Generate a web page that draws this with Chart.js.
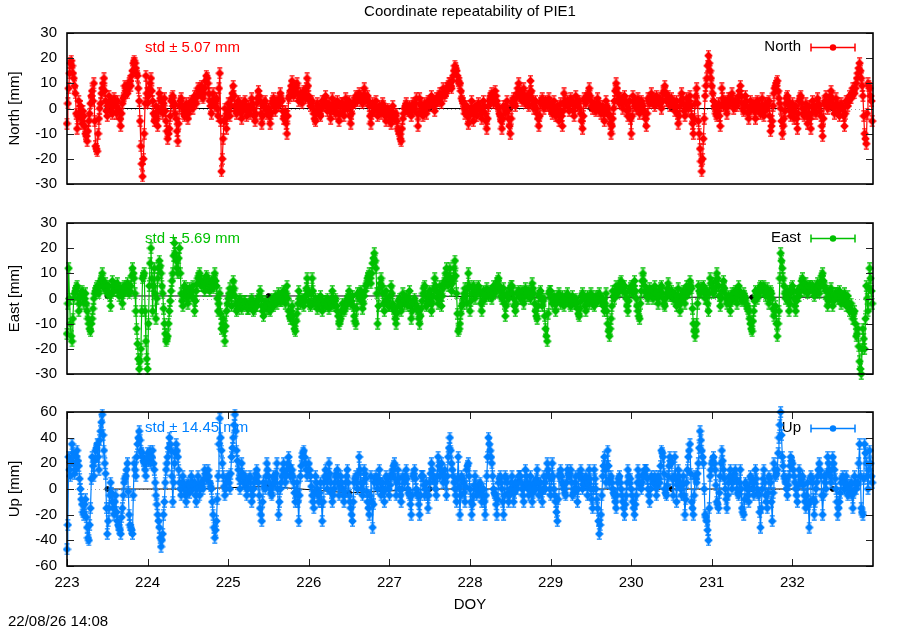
<!DOCTYPE html>
<html><head><meta charset="utf-8">
<script src="https://cdn.jsdelivr.net/npm/chart.js@4"></script>
<style>
html,body{margin:0;padding:0;background:#fff;width:900px;height:630px;overflow:hidden;}
.p{position:absolute;left:0;width:900px;}
</style></head><body>
<div class="p" style="top:0;height:203px"><canvas id="cN"></canvas></div>
<div class="p" style="top:200px;height:193px"><canvas id="cE"></canvas></div>
<div class="p" style="top:390px;height:240px"><canvas id="cU"></canvas></div>
<script>
// ---------- DATA ----------
const startDay = 223;
const samplesPerDay = 48; // values on the hour and half hour; "Mid" arrays hold the quarter-past readings

const northValues = [
-6,8,18,17,12,6,-8,3,1,-6,-3,-10,-13,-5,2,7,10,-15,-17,-4,2,8,12,3,-3,5,2,-2,4,1,3,-1,-7,2,5,8,6,10,9,15,19,16,13,3,-15,-27,-10,13,
2,8,12,3,-5,1,-7,6,3,-2,4,-5,-12,-8,3,5,2,-4,-13,1,4,0,-3,2,-4,1,3,0,5,2,8,6,9,4,8,13,10,3,-2,6,1,4,-3,14,-25,-12,0,-8,
2,-3,4,9,1,-2,3,0,-4,2,3,-3,1,-2,4,0,-5,2,7,3,-6,1,3,-2,0,-6,2,4,-1,3,1,6,3,-4,-1,-10,4,7,11,5,8,10,3,6,2,7,4,12,
5,1,3,-2,-5,2,0,-3,3,1,5,-1,2,-4,4,0,-2,3,-5,1,2,-3,4,0,3,-6,1,2,5,3,6,4,2,8,3,5,1,-6,2,-1,3,-3,1,-2,2,-1,-5,0,
-3,-6,1,-4,-2,-8,-10,-13,-4,0,2,-1,1,-3,2,0,4,-7,4,1,-3,2,-2,3,1,5,2,-1,4,3,6,2,8,5,7,9,10,8,13,17,15,11,10,4,2,-2,1,-6,
-2,3,-5,1,-3,2,0,-4,3,-2,-8,1,4,6,2,7,3,0,-3,-8,1,-2,3,-4,-10,2,4,1,6,10,5,3,8,2,5,1,11,4,0,3,-2,-7,2,4,0,3,1,4,
0,-2,3,-3,1,-5,2,-7,6,1,3,-1,4,2,-3,5,1,3,-2,-8,4,2,5,8,3,0,2,-1,4,1,-2,1,-5,3,0,-3,-10,-4,3,10,6,2,4,0,5,2,-3,3,
-10,5,2,0,4,-2,3,1,-2,-7,4,2,6,3,1,5,2,4,0,6,9,3,5,1,4,2,-1,3,-6,1,6,2,-3,4,0,5,-3,-10,2,8,-5,-16,-25,-12,5,12,21,15,
9,3,0,-3,2,-7,8,1,3,-2,4,2,6,0,3,1,5,9,2,-1,5,1,-4,3,0,2,-4,3,1,-2,4,-3,2,0,3,-9,-5,6,9,11,4,0,-10,-4,2,5,1,-3,
2,-4,1,-8,3,5,0,-3,2,-6,1,-8,3,0,-2,4,1,-3,-11,2,5,0,3,7,2,-2,4,1,-3,2,0,-7,3,1,5,4,8,6,10,14,18,12,5,-10,-14,10,8,3
];
const northMid = [
2,14,19,14,9,-2,-3,-2,-4,-1,-7,-11,-9,-2,5,3,-5,-16,-10,0,6,10,7,-1,1,3,-1,1,3,-2,0,-4,-2,4,9,7,8,11,13,18,18,14,8,-5,-22,-20,2,6,
5,10,7,-2,-3,-4,-1,4,0,2,-1,-9,-10,-3,4,1,-2,-9,-6,3,1,-2,0,-1,-2,2,1,3,4,5,7,8,5,6,11,12,6,1,3,2,3,0,8,-5,-20,-5,-4,-2,
-1,1,6,5,-1,1,2,-2,-1,1,0,-1,0,1,2,-3,-2,4,5,-2,-3,2,0,-1,-3,-2,3,1,1,2,4,4,-1,-3,-6,-3,5,9,8,6,9,6,4,4,5,6,8,9,
3,2,0,-4,-1,1,-2,0,2,3,2,1,-1,0,2,-1,1,-2,-2,2,-1,1,2,1,-3,-2,2,3,4,5,5,3,5,5,4,3,-3,-2,1,1,0,-1,0,0,1,-3,-2,-1,
-5,-2,-2,-3,-5,-9,-12,-8,-2,1,0,0,-1,-1,1,2,-2,-2,2,-1,0,0,1,2,3,3,1,2,3,5,4,6,6,6,8,10,9,11,15,16,13,10,7,3,0,-1,-3,-3,
0,-1,-2,-1,0,1,-2,-1,1,-5,-4,3,5,4,5,5,1,-2,-5,-4,0,1,-1,-7,-4,3,2,4,8,7,4,6,5,3,3,6,7,2,1,0,-4,-3,3,2,1,2,2,2,
-1,1,0,-1,-2,-1,-3,-1,3,2,1,2,3,-1,1,3,2,0,-5,-3,3,4,6,5,1,1,0,2,2,-1,0,-2,-1,1,-2,-6,-7,0,7,8,4,3,2,3,3,-1,0,-4,
-3,3,1,2,1,0,2,-1,-4,-2,3,4,4,2,3,3,3,2,3,7,6,4,3,2,3,1,1,-2,-3,3,4,-1,0,2,3,1,-6,-4,5,2,-10,-21,-20,-4,9,17,18,12,
6,1,-2,-1,-3,1,4,2,0,1,3,4,3,1,2,3,7,5,0,2,3,-2,-1,1,1,-1,0,2,-1,1,0,-1,1,2,-3,-7,1,8,10,7,2,-5,-7,-1,4,3,-1,0,
-1,-1,-4,-2,4,2,-2,0,-2,-2,-4,-2,1,-1,1,2,-1,-7,-4,3,2,1,5,4,0,1,2,-1,0,1,-3,-2,2,3,4,6,7,8,12,16,15,9,-3,-12,-2,9,5,-5
];

const eastValues = [
-14,12,-10,-17,0,3,5,-5,1,3,-2,2,-5,-10,-13,-8,0,3,5,2,7,10,4,6,2,5,-3,7,3,5,6,1,4,-2,5,3,6,2,5,12,8,-5,-18,-28,-20,8,10,-17,
-28,5,20,-5,12,-8,8,15,10,2,-10,-17,-15,-5,3,10,22,15,10,20,2,-3,5,3,-2,4,1,5,-5,3,8,10,5,7,3,9,6,3,7,4,10,5,-5,2,-12,-8,-17,-5,
0,4,-3,7,1,-5,-2,0,-4,-2,-1,-3,-4,-2,0,-5,-2,-3,0,3,-3,-7,-1,-4,-2,-5,0,-3,1,-2,2,-1,0,3,-2,5,-5,-8,-3,-10,-13,-6,3,-2,0,-3,1,8,
-1,-3,8,-2,0,-4,-2,1,-5,-1,-3,0,-4,-2,3,-3,0,-5,-10,-8,-2,-5,-3,0,3,-2,1,-7,-10,2,0,3,-4,1,5,8,10,6,14,18,12,-10,4,8,2,-5,3,-2,
-3,5,-2,-5,-10,-3,0,-5,2,-2,1,-3,3,-8,-2,0,-3,-5,-10,-4,2,5,-3,0,3,-5,1,8,3,-2,5,-3,4,7,12,5,12,3,8,15,2,-13,-10,-3,0,4,-2,10,
-5,2,5,0,3,5,2,-5,3,0,4,1,3,0,5,2,6,8,3,0,4,-7,2,0,4,5,0,-5,2,3,0,3,-2,4,1,3,0,6,2,-5,-8,1,3,-3,0,-12,-17,2,
3,-2,1,-5,0,2,-2,1,-3,0,2,-1,-3,1,-2,0,-4,-7,-1,2,0,-5,1,-2,2,0,-3,1,-1,2,-1,0,-5,2,-10,-15,-8,3,0,5,2,4,7,3,5,0,-5,3,
5,2,7,0,-5,-8,3,10,5,2,0,4,3,0,5,2,-2,3,5,0,-3,2,6,1,3,0,2,-3,4,-5,1,3,-2,5,2,7,4,-10,-15,-10,5,2,4,5,0,3,-5,8,
6,2,4,10,5,-3,3,7,2,-2,1,-5,2,0,3,-2,5,1,-1,2,0,-3,-5,-10,-13,-5,3,0,2,5,3,5,1,4,-2,3,0,-7,-3,-15,-5,18,12,5,0,3,-5,2,
5,0,-5,3,1,5,8,3,6,2,5,4,5,1,3,6,2,7,10,5,3,-3,2,4,-3,1,2,0,3,-2,0,2,-3,1,-5,-2,-8,-5,-15,-12,-25,-30,-12,-20,5,-5,12,3
];
const eastMid = [
-2,0,-15,-8,2,4,0,-2,2,0,0,-2,-8,-12,-10,-4,2,4,3,5,8,7,5,4,3,1,2,5,4,5,3,2,1,2,4,5,4,3,9,10,2,-12,-24,-25,-5,9,-5,-24,
-10,14,8,5,2,0,12,13,5,-4,-14,-16,-10,-1,7,17,18,12,16,10,-1,1,4,0,1,3,3,0,-1,6,9,7,6,5,6,8,4,5,5,8,7,0,-2,-6,-10,-13,-11,-2,
2,1,2,4,-2,-4,-1,-2,-3,-1,-2,-4,-3,-1,-3,-4,-3,-1,1,0,-5,-4,-2,-3,-4,-2,-2,-1,0,0,1,-1,2,0,2,0,-7,-5,-7,-12,-9,-2,0,-1,-1,-1,4,3,
-2,2,3,-1,-2,-3,0,-2,-3,-2,-1,-2,-3,0,0,-1,-3,-7,-9,-5,-4,-4,-1,1,0,-1,-3,-9,-4,1,2,-1,-2,3,6,9,8,10,16,15,2,-3,6,5,-2,-1,0,-3,
1,2,-4,-8,-6,-1,-3,-2,0,-1,-1,0,-3,-5,-1,-2,-4,-8,-7,-1,4,1,-2,2,-1,-2,4,5,0,2,1,1,6,10,8,9,7,6,12,9,-6,-12,-6,-2,2,1,4,5,
-1,4,2,2,4,3,-2,-1,1,2,2,2,1,3,3,4,7,5,1,2,-2,-3,1,2,5,2,-3,-2,2,1,2,0,1,2,2,1,3,4,-2,-7,-3,2,0,-1,-7,-15,-6,3,
0,-1,-2,-2,1,0,-1,-1,-1,1,0,-2,-1,-1,-1,-2,-6,-4,1,1,-3,-2,-1,0,1,-2,-1,0,1,0,-1,-3,-2,-5,-13,-12,-3,1,3,3,3,6,5,4,2,-3,-1,4,
3,5,3,-3,-7,-2,7,7,3,1,2,3,1,3,3,0,1,4,2,-2,0,4,3,2,1,1,-1,1,-1,-2,2,0,2,3,5,5,-4,-13,-13,-2,3,3,4,2,2,-2,2,6,
4,3,7,8,1,0,5,4,0,-1,-2,-1,1,2,0,2,3,0,1,1,-2,-4,-8,-12,-9,-1,2,1,4,4,4,3,2,1,0,2,-4,-5,-10,-10,8,15,8,2,1,-1,-2,4,
3,-3,-1,2,3,7,5,4,4,3,5,4,3,2,5,4,5,9,7,4,0,-1,3,0,-1,2,1,2,0,-1,1,-1,-1,-2,-4,-5,-6,-10,-14,-19,-28,-20,-16,-8,0,4,8,-2
];

const upValues = [
-47,25,10,35,20,15,30,18,0,-12,-20,-8,-30,-40,-15,25,10,30,35,15,45,58,30,12,-35,-15,5,-10,-20,-5,-25,-30,-35,-15,5,10,20,-20,-30,-35,20,10,35,45,30,25,20,10,
28,25,20,30,15,-5,-20,-30,-45,-35,-10,15,25,40,30,-10,20,35,25,5,-5,10,3,-10,5,-3,10,0,5,-10,10,-5,5,0,15,8,15,5,0,-20,-38,-25,10,55,30,10,-5,5,
10,0,25,40,58,30,15,0,20,5,10,-5,5,10,-10,0,8,15,5,-15,-25,5,0,20,10,0,-5,10,5,20,-20,0,10,20,5,15,25,10,15,5,-10,5,-25,10,25,30,20,10,
20,10,-5,-15,10,0,-10,5,-25,5,15,0,20,5,-10,0,10,15,-5,10,0,-10,5,15,-5,-15,-25,5,10,0,25,5,-5,15,8,-10,-20,10,-30,5,10,0,15,-5,5,-10,10,5,
-5,10,15,20,-5,15,0,-10,10,5,15,0,-5,-20,10,15,0,-5,-20,10,10,-5,5,-15,5,20,10,5,-5,25,10,20,5,15,-5,25,40,20,10,0,-10,25,-20,10,5,-10,15,20,
0,-20,-5,10,-5,0,5,-10,0,-20,10,40,30,20,0,-5,-20,5,10,0,-20,10,5,-10,0,10,-10,5,0,10,10,0,-10,15,5,-5,10,-10,5,0,15,-5,5,-10,10,0,20,10,
-5,20,0,-10,-25,10,15,5,0,-5,15,10,15,-5,0,10,-10,10,15,0,5,10,-5,15,0,-15,15,0,-15,-35,-20,10,25,5,30,5,10,0,-5,-15,5,10,0,-10,-20,-5,15,5,
0,-10,-20,-5,15,5,0,10,15,15,0,-10,10,5,10,-5,10,5,30,25,0,-5,10,25,20,-5,25,-10,15,5,-5,10,-20,5,25,35,-10,-20,10,5,20,45,30,20,-20,-25,-40,10,
20,25,15,-10,-15,10,30,15,0,-15,5,15,0,10,15,0,-5,15,-15,-20,5,0,-10,10,5,-5,15,0,-5,-30,0,15,-5,-15,10,5,-25,20,10,15,40,60,25,10,5,-5,10,25,
20,10,0,-10,15,5,10,-5,-15,5,-30,10,5,-20,0,10,20,10,-20,10,0,25,15,5,25,15,0,-20,-10,5,10,0,10,-5,0,5,-15,10,0,5,35,-15,-20,35,20,0,30,10
];
const upMid = [
-28,15,22,28,12,25,22,8,-8,-18,-12,-22,-38,-28,8,18,22,32,25,38,52,42,20,-15,-25,-5,-3,-15,-10,-18,-28,-32,-22,-5,8,15,-2,-28,-32,-5,15,25,40,38,28,22,15,22,
22,30,25,20,5,-12,-25,-38,-40,-20,5,20,32,35,10,5,28,30,15,0,5,0,-5,-2,0,3,5,3,-5,0,3,0,2,8,12,10,10,2,-10,-30,-32,-8,35,40,20,2,0,8,
5,12,32,50,45,22,8,10,12,8,2,0,8,0,-5,5,12,10,-5,-20,-10,2,10,15,5,-3,3,8,12,0,-10,5,15,12,10,20,18,12,10,-3,-2,-10,-5,18,28,25,15,15,
15,2,-10,-3,5,-5,-3,-10,-10,10,8,10,12,-3,-5,5,12,5,2,5,-5,-2,10,5,-10,-20,-10,8,5,12,15,0,5,12,-2,-15,-5,-10,-12,8,5,8,5,0,-2,0,8,0,
3,12,18,8,5,8,-5,0,8,10,8,-3,-12,-5,12,8,-3,-12,-5,10,3,0,-5,-5,12,15,8,0,10,18,15,12,10,5,10,32,30,15,5,-5,8,2,-5,8,-3,2,18,10,
-10,-12,3,2,-2,3,-3,-5,-10,-5,25,35,25,10,-3,-12,-8,8,5,-10,-5,8,-3,-5,5,0,-3,3,5,10,5,-5,3,10,0,3,0,-3,3,8,5,0,-3,0,5,10,15,0,
8,10,-5,-18,-8,12,10,3,-3,5,12,12,5,-3,5,0,0,12,8,3,8,3,5,8,-8,0,8,-8,-25,-28,-5,18,15,18,18,8,5,-3,-10,-5,8,5,-5,-15,-12,5,10,8,
-5,-15,-12,5,10,3,5,12,15,8,-5,0,8,8,3,2,8,18,28,12,-3,3,18,22,8,10,8,3,10,0,3,-5,-8,15,30,12,-15,-5,8,12,32,38,25,0,-22,-32,-15,15,
22,20,3,-12,-3,20,22,8,-8,-5,10,8,5,12,8,-3,5,0,-18,-8,3,-5,0,8,0,5,8,-3,-18,-15,8,5,-10,-3,8,-10,-3,15,12,28,50,42,18,8,0,3,18,22,
15,5,-5,3,10,8,3,-10,-5,-12,-10,8,-8,-10,5,15,15,-5,-5,5,12,20,10,15,20,8,-10,-15,-3,8,5,5,3,-3,3,-5,-3,5,3,20,10,-18,8,28,10,15,20,5
];

// daily reference points (black)
const dailyDays  = [223.5,224.5,225.5,226.5,227.5,228.5,229.5,230.5,231.5,232.5];
const dailyNorth = [0,0,0,0,0,0,0,0,0,0];
const dailyEast  = [1,1,1,1,1,0.5,0.5,0.5,0.5,0.5];
const dailyUp    = [0,0,2,-3,0,0,0,0,0,0];

const xTickValues   = [223,224,225,226,227,228,229,230,231,232];
const neTickValues  = [30,20,10,0,-10,-20,-30];
const upTickValues  = [60,40,20,0,-20,-40,-60];

const chartTitle = 'Coordinate repeatability of PIE1';
const stampText  = '22/08/26 14:08';
const stdNorth = 'std \u00B1 5.07 mm';
const stdEast  = 'std \u00B1 5.69 mm';
const stdUp    = 'std \u00B1 14.45 mm';

// ---------- STYLE ----------
const FONT = '"Liberation Sans", Arial, Helvetica, sans-serif';
Chart.defaults.font.family = FONT;
Chart.defaults.font.size = 15;
Chart.defaults.color = '#000';

function marker(color){
  const c = document.createElement('canvas'); c.width = 9; c.height = 12;
  const g = c.getContext('2d');
  g.strokeStyle = color; g.fillStyle = color; g.lineWidth = 1.2;
  g.beginPath();
  g.moveTo(4.5,0.5); g.lineTo(4.5,11.5);
  g.moveTo(2,0.8); g.lineTo(7,0.8);
  g.moveTo(2,11.2); g.lineTo(7,11.2);
  g.stroke();
  g.beginPath();
  g.moveTo(4.5,1.5); g.lineTo(8.8,6); g.lineTo(4.5,10.5); g.lineTo(0.2,6); g.closePath(); g.fill();
  return c;
}

function panelPlugin(cfg){
  return {
    id: 'panel_' + cfg.name,
    beforeDatasetsDraw(chart){
      const {ctx, chartArea:a, scales:{y}} = chart;
      ctx.save();
      const y0 = Math.round(y.getPixelForValue(0)) + 0.5;
      ctx.strokeStyle = '#a0a0a0'; ctx.lineWidth = 1; ctx.setLineDash([1,3]);
      ctx.beginPath(); ctx.moveTo(a.left, y0); ctx.lineTo(a.right, y0); ctx.stroke();
      ctx.setLineDash([]);
      ctx.font = '15px ' + FONT; ctx.textBaseline = 'middle';
      ctx.fillStyle = cfg.color; ctx.textAlign = 'left';
      ctx.fillText(cfg.stdText, 145, cfg.stdY);
      ctx.fillStyle = '#000'; ctx.textAlign = 'right';
      ctx.fillText(cfg.name, 801, cfg.legY);
      const ly = cfg.legY + 0.5;
      ctx.strokeStyle = cfg.color; ctx.lineWidth = 1.5;
      ctx.beginPath();
      ctx.moveTo(811, ly); ctx.lineTo(855, ly);
      ctx.moveTo(811, ly-4); ctx.lineTo(811, ly+4);
      ctx.moveTo(855, ly-4); ctx.lineTo(855, ly+4);
      ctx.stroke();
      ctx.fillStyle = cfg.color;
      ctx.beginPath(); ctx.arc(833, ly, 3.2, 0, Math.PI*2); ctx.fill();
      ctx.restore();
    },
    afterDraw(chart){
      const {ctx, chartArea:a, scales:{x,y}} = chart;
      ctx.save();
      ctx.strokeStyle = '#222'; ctx.lineWidth = 1;
      ctx.beginPath();
      cfg.ticks.forEach(v => {
        const yp = Math.round(y.getPixelForValue(v)) + 0.5;
        ctx.moveTo(a.left, yp); ctx.lineTo(a.left + 7, yp);
        ctx.moveTo(a.right - 7, yp); ctx.lineTo(a.right, yp);
      });
      if (cfg.showX){
        xTickValues.forEach(v => {
          const xp = Math.round(x.getPixelForValue(v)) + 0.5;
          ctx.moveTo(xp, a.bottom); ctx.lineTo(xp, a.bottom - 7);
          ctx.moveTo(xp, a.top); ctx.lineTo(xp, a.top + 7);
        });
      }
      ctx.stroke();
      ctx.strokeStyle = '#000'; ctx.lineWidth = 1.6;
      ctx.strokeRect(a.left, a.top, a.right - a.left, a.bottom - a.top);
      ctx.fillStyle = '#000'; ctx.font = '15px ' + FONT; ctx.textBaseline = 'middle';
      if (cfg.title){ ctx.textAlign = 'center'; ctx.fillText(cfg.title, 470, 12); }
      if (cfg.stamp){ ctx.textAlign = 'left'; ctx.fillText(cfg.stamp, 8, 232); }
      ctx.restore();
    }
  };
}

function makeChart(id, cfg){
  const pts = [];
  cfg.values.forEach((v,i) => {
    pts.push({x: startDay + i / samplesPerDay, y: v});
    if (i < cfg.mid.length) pts.push({x: startDay + (i + 0.5) / samplesPerDay, y: cfg.mid[i]});
  });
  const daily = dailyDays.map((d,i) => ({x: d, y: cfg.daily[i]}));
  return new Chart(document.getElementById(id), {
    type: 'line',
    data: { datasets: [
      { data: pts, borderColor: cfg.color, backgroundColor: cfg.color, borderWidth: 1.2,
        pointStyle: marker(cfg.color), pointRadius: 5, pointHoverRadius: 5, tension: 0, order: 0, clip: 6 },
      { data: daily, borderColor: '#000', backgroundColor: '#000', borderWidth: 1,
        pointStyle: 'circle', pointRadius: 2.4, tension: 0, order: 1 }
    ]},
    options: {
      responsive: true, maintainAspectRatio: false, animation: false, events: [],
      layout: { padding: cfg.padding },
      plugins: { legend: {display:false}, tooltip: {enabled:false}, title: {display:false} },
      scales: {
        x: {
          type: 'linear', min: 223, max: 233, display: cfg.showX,
          afterBuildTicks: s => { s.ticks = xTickValues.map(v => ({value: v})); },
          afterFit: s => { if (cfg.showX) s.height = 64; },
          ticks: { padding: 8, color: '#000', font: {size: 15}, maxRotation: 0 },
          grid: { display: false, drawTicks: false },
          border: { display: false },
          title: { display: true, text: 'DOY', color: '#000', font: {size: 15}, padding: {top: 0, bottom: 16} }
        },
        y: {
          min: cfg.min, max: cfg.max,
          afterBuildTicks: s => { s.ticks = cfg.ticks.map(v => ({value: v})); },
          afterFit: s => { s.width = 67; },
          ticks: { padding: 10, color: '#000', font: {size: 15} },
          grid: { display: false, drawTicks: false },
          border: { display: false },
          title: { display: true, text: cfg.label, color: '#000', font: {size: 15}, padding: {top: 6, bottom: 0} }
        }
      }
    },
    plugins: [panelPlugin(cfg)]
  });
}

makeChart('cN', { name: 'North', color: '#ff0000', values: northValues, mid: northMid, daily: dailyNorth,
  min: -30, max: 30, ticks: neTickValues, label: 'North [mm]', showX: false,
  padding: {top: 33, right: 27, bottom: 10, left: 0},
  stdText: stdNorth, stdY: 48, legY: 47, title: chartTitle });

makeChart('cE', { name: 'East', color: '#00c000', values: eastValues, mid: eastMid, daily: dailyEast,
  min: -30, max: 30, ticks: neTickValues, label: 'East [mm]', showX: false,
  padding: {top: 23, right: 27, bottom: 10, left: 0},
  stdText: stdEast, stdY: 39, legY: 38 });

makeChart('cU', { name: 'Up', color: '#0080ff', values: upValues, mid: upMid, daily: dailyUp,
  min: -60, max: 60, ticks: upTickValues, label: 'Up [mm]', showX: true,
  padding: {top: 22, right: 27, bottom: 0, left: 0},
  stdText: stdUp, stdY: 38, legY: 38, stamp: stampText });
</script>
</body></html>
